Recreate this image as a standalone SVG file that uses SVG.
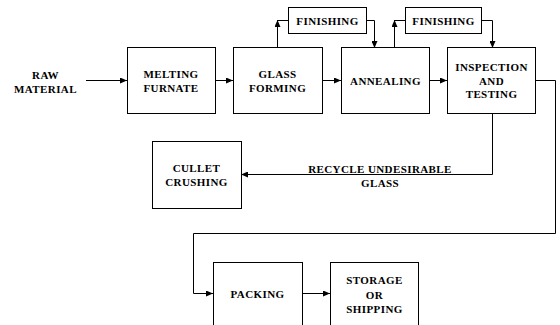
<svg xmlns="http://www.w3.org/2000/svg" width="560" height="325" viewBox="0 0 560 325">
<style>
.box{fill:#fff;stroke:#000;stroke-width:1}
.t{font-family:"Liberation Serif","Times New Roman",serif;font-weight:bold;font-size:11px;letter-spacing:0.4px;fill:#000;text-anchor:middle}
.c{fill:none;stroke:#000;stroke-width:1}
</style>
<defs>
<marker id="ah" markerWidth="7" markerHeight="6" refX="7" refY="3" orient="auto" markerUnits="userSpaceOnUse">
<path d="M0,0 L7,3 L0,6 z" fill="#000"/>
</marker>
</defs>
<rect width="560" height="325" fill="#fff"/>
<g id="connectors">
<path class="c" d="M86,80.5 H127" marker-end="url(#ah)"/>
<path class="c" d="M215,80.5 H233" marker-end="url(#ah)"/>
<path class="c" d="M322,80.5 H341" marker-end="url(#ah)"/>
<path class="c" d="M429,80.5 H447" marker-end="url(#ah)"/>
<path class="c" d="M277.5,48 V20" marker-end="url(#ah)"/>
<path class="c" d="M277.5,20.5 H288"/>
<path class="c" d="M366,20.5 H374.5 V48" marker-end="url(#ah)"/>
<path class="c" d="M394.5,48 V20" marker-end="url(#ah)"/>
<path class="c" d="M394.5,20.5 H405"/>
<path class="c" d="M481,20.5 H492.5 V48" marker-end="url(#ah)"/>
<path class="c" d="M492.5,113 V174.5 H241" marker-end="url(#ah)"/>
<path class="c" d="M536,80.5 H555.5 V233.5 H193.5 V293.5 H213" marker-end="url(#ah)"/>
<path class="c" d="M302,293.5 H330" marker-end="url(#ah)"/>
</g>
<g id="raw">
<text class="t" x="45.5" y="79">RAW</text>
<text class="t" x="45.5" y="93">MATERIAL</text>
</g>
<g id="melting">
<rect class="box" x="127.5" y="47.5" width="88" height="66"/>
<text class="t" x="171" y="77.5">MELTING</text>
<text class="t" x="171" y="92">FURNATE</text>
</g>
<g id="glass">
<rect class="box" x="233.5" y="47.5" width="89" height="66"/>
<text class="t" x="277.5" y="78">GLASS</text>
<text class="t" x="277.5" y="92">FORMING</text>
</g>
<g id="annealing">
<rect class="box" x="341.5" y="47.5" width="88" height="66"/>
<text class="t" x="385.5" y="85">ANNEALING</text>
</g>
<g id="inspection">
<rect class="box" x="447.5" y="47.5" width="88" height="66"/>
<text class="t" x="491.5" y="71">INSPECTION</text>
<text class="t" x="491.5" y="84.5">AND</text>
<text class="t" x="491.5" y="98">TESTING</text>
</g>
<g id="finishing1">
<rect class="box" x="288.5" y="7.5" width="78" height="26"/>
<text class="t" x="327.5" y="24.5">FINISHING</text>
</g>
<g id="finishing2">
<rect class="box" x="405.5" y="7.5" width="76" height="26"/>
<text class="t" x="443.5" y="24.5">FINISHING</text>
</g>
<g id="cullet">
<rect class="box" x="152.5" y="141.5" width="89" height="67"/>
<text class="t" x="196.5" y="172">CULLET</text>
<text class="t" x="196.5" y="186">CRUSHING</text>
</g>
<g id="recycle-label">
<text class="t" x="380" y="173">RECYCLE UNDESIRABLE</text>
<text class="t" x="380" y="187">GLASS</text>
</g>
<g id="packing">
<rect class="box" x="213.5" y="262.5" width="89" height="70"/>
<text class="t" x="257.5" y="298">PACKING</text>
</g>
<g id="storage">
<rect class="box" x="330.5" y="262.5" width="88" height="70"/>
<text class="t" x="374.5" y="284">STORAGE</text>
<text class="t" x="374.5" y="298.5">OR</text>
<text class="t" x="374.5" y="313">SHIPPING</text>
</g>
</svg>
